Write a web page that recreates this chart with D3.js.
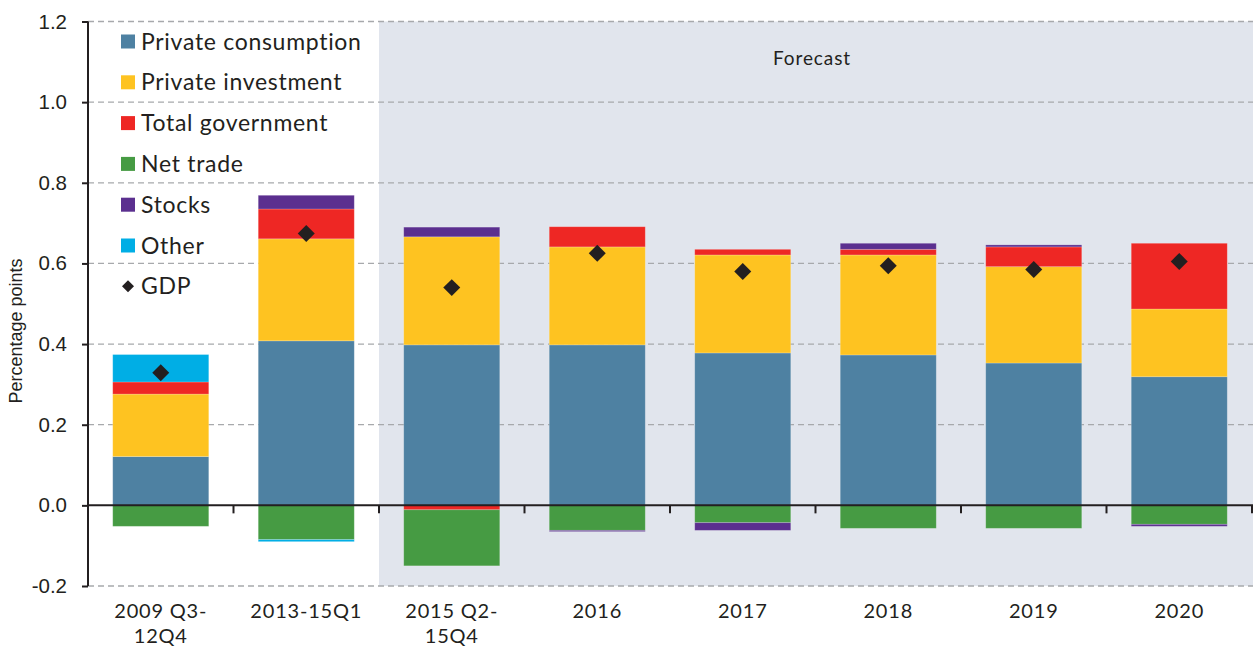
<!DOCTYPE html>
<html>
<head>
<meta charset="utf-8">
<script src="https://cdn.jsdelivr.net/npm/d3@7"></script>
<style>
  body { margin: 0; background: #fff; }
  svg { display: block; }
  .lbl { font-family: "Lato", "DejaVu Sans", sans-serif; fill: #231f20; }
  .num { font-family: "Liberation Sans", Arial, sans-serif; fill: #231f20; }
</style>
</head>
<body>
<div id="chart"></div>
<script>
const categories = ["2009 Q3-\n12Q4", "2013-15Q1", "2015 Q2-\n15Q4", "2016", "2017", "2018", "2019", "2020"];
const privateConsumption = [0.121, 0.408, 0.398, 0.398, 0.378, 0.373, 0.353, 0.319];
const privateInvestment  = [0.155, 0.253, 0.268, 0.243, 0.243, 0.248, 0.239, 0.168];
const totalGovernment    = [0.030, 0.074, -0.011, 0.050, 0.014, 0.014, 0.049, 0.163];
const netTrade           = [-0.052, -0.085, -0.139, -0.062, -0.043, -0.057, -0.057, -0.047];
const stocks             = [0.000, 0.034, 0.024, -0.003, -0.019, 0.015, 0.005, -0.005];
const other              = [0.068, -0.005, 0.000, 0.000, 0.000, 0.000, 0.000, 0.000];
const gdp                = [0.329, 0.674, 0.540, 0.625, 0.580, 0.594, 0.585, 0.605];
const yTicks = [-0.2, 0.0, 0.2, 0.4, 0.6, 0.8, 1.0, 1.2];

const series = [
  { key: "Private consumption", values: privateConsumption, color: "#4e81a2" },
  { key: "Private investment", values: privateInvestment, color: "#fec321" },
  { key: "Total government", values: totalGovernment, color: "#ee2724" },
  { key: "Net trade", values: netTrade, color: "#469b43" },
  { key: "Stocks", values: stocks, color: "#5b2f8f" },
  { key: "Other", values: other, color: "#00aee5" }
];

const width = 1253, height = 650;
const plotLeft = 88, plotRight = 1252, plotTop = 21.5, plotBottom = 586;

const svg = d3.select("#chart").append("svg")
  .attr("width", width)
  .attr("height", height);

const x = d3.scaleBand().domain(categories).range([plotLeft, plotRight]).paddingInner(0.34).paddingOuter(0.17);
const y = d3.scaleLinear().domain([-0.2, 1.2]).range([plotBottom, plotTop]);

// forecast shading
const fStart = plotLeft + x.step() * 2;
svg.append("rect")
  .attr("x", fStart).attr("y", y(1.2))
  .attr("width", width - fStart).attr("height", y(-0.2) - y(1.2))
  .attr("fill", "#e1e5ed");

svg.append("text").attr("class", "lbl")
  .attr("x", 812).attr("y", 65)
  .attr("text-anchor", "middle")
  .attr("font-size", 19)
  .attr("letter-spacing", 0.9)
  .text("Forecast");

// gridlines
svg.append("g").selectAll("line")
  .data(yTicks.filter(d => d !== 0))
  .join("line")
  .attr("x1", plotLeft).attr("x2", width)
  .attr("y1", d => y(d)).attr("y2", d => y(d))
  .attr("stroke", "#a7a9ac")
  .attr("stroke-width", 1.3)
  .attr("stroke-dasharray", "6,4");

// stacked bars
const table = categories.map((c, i) => {
  const row = { cat: c };
  series.forEach(s => row[s.key] = s.values[i]);
  return row;
});
const stack = d3.stack()
  .keys(series.map(s => s.key))
  .offset(d3.stackOffsetDiverging);
const stacked = stack(table);

svg.append("g").selectAll("g")
  .data(stacked)
  .join("g")
  .attr("fill", (d, i) => series[i].color)
  .selectAll("rect")
  .data(d => d)
  .join("rect")
  .attr("x", d => x(d.data.cat))
  .attr("width", x.bandwidth())
  .attr("y", d => y(Math.max(d[0], d[1])))
  .attr("height", d => Math.abs(y(d[0]) - y(d[1])))
  .attr("stroke", "#ffffff")
  .attr("stroke-opacity", 0.25)
  .attr("stroke-width", 0.8);

// y axis
const yAxis = svg.append("g")
  .attr("transform", `translate(${plotLeft},0)`)
  .call(d3.axisLeft(y).tickValues(yTicks).tickFormat(d => d.toFixed(1)).tickSize(6).tickPadding(15));
yAxis.select(".domain").attr("stroke", "#231f20").attr("stroke-width", 2).attr("d", `M0,${plotTop}V${plotBottom}`);
yAxis.selectAll(".tick line").attr("stroke", "#231f20").attr("stroke-width", 2);
yAxis.selectAll(".tick text").attr("class", "num").attr("font-size", 20.5).attr("fill", "#231f20");

// zero line with ticks between categories
svg.append("line")
  .attr("x1", plotLeft).attr("x2", plotRight + 1)
  .attr("y1", y(0)).attr("y2", y(0))
  .attr("stroke", "#231f20").attr("stroke-width", 2);
svg.append("g").selectAll("line")
  .data(d3.range(1, categories.length + 1))
  .join("line")
  .attr("x1", d => plotLeft + d * x.step()).attr("x2", d => plotLeft + d * x.step())
  .attr("y1", y(0)).attr("y2", y(0) + 8)
  .attr("stroke", "#231f20").attr("stroke-width", 2);

// category labels
svg.append("g").selectAll("text")
  .data(categories)
  .join("text")
  .attr("class", "lbl")
  .attr("text-anchor", "middle")
  .attr("font-size", 20)
  .attr("letter-spacing", 0.8)
  .attr("x", d => x(d) + x.bandwidth() / 2)
  .attr("y", 618)
  .each(function(d) {
    const parts = d.split("\n");
    d3.select(this).selectAll("tspan")
      .data(parts)
      .join("tspan")
      .attr("x", x(d) + x.bandwidth() / 2)
      .attr("dy", (p, i) => i === 0 ? 0 : 25)
      .text(p => p);
  });

// y label
svg.append("text").attr("class", "num")
  .attr("transform", "translate(22,331) rotate(-90)")
  .attr("text-anchor", "middle")
  .attr("font-size", 18)
  .text("Percentage points");

// GDP diamonds
const diamond = d3.symbol(d3.symbolSquare, 144);
svg.append("g").selectAll("path")
  .data(gdp)
  .join("path")
  .attr("d", diamond)
  .attr("transform", (d, i) => `translate(${x(categories[i]) + x.bandwidth() / 2},${y(d)}) rotate(45)`)
  .attr("fill", "#231f20");

// legend
const legendItems = series.concat([{ key: "GDP", color: "#231f20", gdp: true }]);
const legend = svg.append("g").selectAll("g")
  .data(legendItems)
  .join("g")
  .attr("transform", (d, i) => `translate(121,${41.5 + i * 40.8})`);
legend.filter(d => !d.gdp).append("rect")
  .attr("x", 0).attr("y", -7).attr("width", 14).attr("height", 14)
  .attr("fill", d => d.color);
legend.filter(d => d.gdp).append("path")
  .attr("d", d3.symbol(d3.symbolSquare, 72))
  .attr("transform", "translate(7,0) rotate(45)")
  .attr("fill", "#231f20");
legend.append("text").attr("class", "lbl")
  .attr("x", 20).attr("y", 8)
  .attr("font-size", 23)
  .attr("letter-spacing", 0.7)
  .text(d => d.key);
</script>
</body>
</html>
